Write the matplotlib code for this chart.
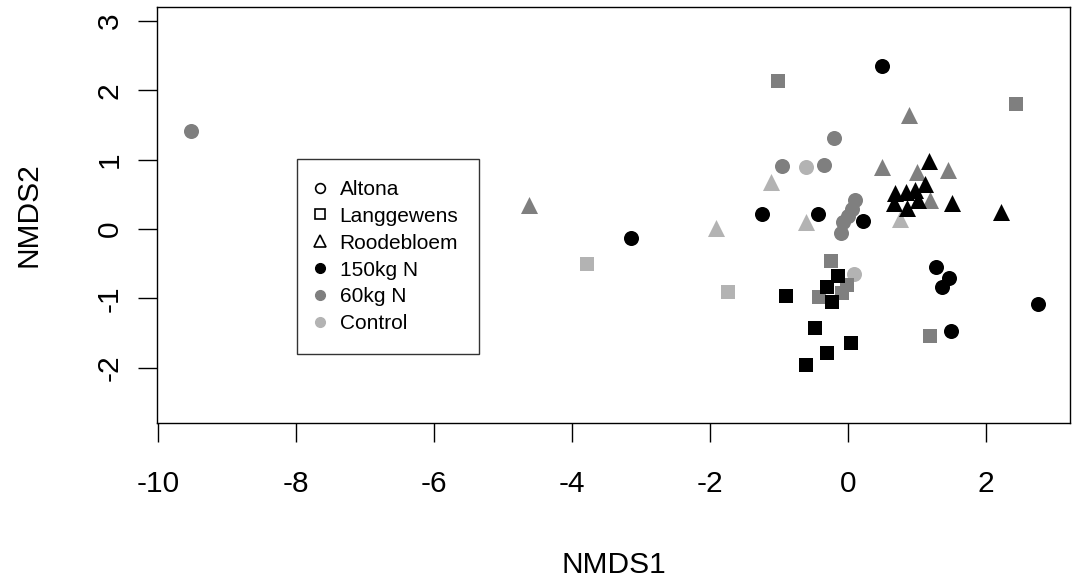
import matplotlib
matplotlib.use("Agg")
import matplotlib.pyplot as plt
from matplotlib.lines import Line2D

plt.rcParams['font.family'] = ['Liberation Sans', 'DejaVu Sans']

# NMDS scores, per site and N treatment
altona_150_x = [0.49, -3.14, -1.25, -0.43, 0.22, 1.28, 1.46, 1.36, 2.75, 1.49]
altona_150_y = [2.35, -0.13, 0.22, 0.22, 0.12, -0.55, -0.71, -0.84, -1.08, -1.47]
altona_60_x = [-9.52, -0.20, -0.96, -0.35, 0.10, 0.06, 0.00, -0.07, -0.10]
altona_60_y = [1.41, 1.31, 0.91, 0.92, 0.42, 0.29, 0.19, 0.10, -0.06]
altona_ctl_x = [-0.61, 0.09]
altona_ctl_y = [0.89, -0.65]

lang_150_x = [-0.90, -0.14, -0.30, -0.23, -0.48, 0.04, -0.30, -0.61]
lang_150_y = [-0.97, -0.68, -0.84, -1.05, -1.43, -1.64, -1.79, -1.97]
lang_60_x = [-1.01, 2.43, -0.25, -0.01, -0.09, -0.42, 1.19]
lang_60_y = [2.13, 1.80, -0.46, -0.81, -0.92, -0.98, -1.55]
lang_ctl_x = [-1.74, -3.78]
lang_ctl_y = [-0.91, -0.50]

rood_150_x = [1.17, 1.51, 2.22, 0.68, 0.84, 0.97, 1.12, 0.67, 0.86, 1.01]
rood_150_y = [0.98, 0.37, 0.24, 0.52, 0.53, 0.56, 0.65, 0.37, 0.30, 0.42]
rood_60_x = [0.88, 1.45, 1.00, 0.49, -4.62, 1.19]
rood_60_y = [1.64, 0.85, 0.82, 0.89, 0.35, 0.42]
rood_ctl_x = [-1.12, -1.91, -0.61, 0.75]
rood_ctl_y = [0.68, 0.01, 0.10, 0.14]

site_labels = ["Altona", "Langgewens", "Roodebloem"]
treat_labels = ["150kg N", "60kg N", "Control"]

c150, c60, cctl = "black", "#7f7f7f", "#b3b3b3"

fig = plt.figure(figsize=(10.72, 5.78), dpi=100)
ax = fig.add_axes([157/1072, 1 - 423/578, 913/1072, 416/578])

groups = [
    (altona_ctl_x, altona_ctl_y, "o", cctl, 117),
    (altona_60_x, altona_60_y, "o", c60, 117),
    (altona_150_x, altona_150_y, "o", c150, 117),
    (lang_ctl_x, lang_ctl_y, "s", cctl, 106),
    (lang_60_x, lang_60_y, "s", c60, 106),
    (lang_150_x, lang_150_y, "s", c150, 106),
    (rood_ctl_x, rood_ctl_y, "^", cctl, 150),
    (rood_60_x, rood_60_y, "^", c60, 150),
    (rood_150_x, rood_150_y, "^", c150, 150),
]
for gx, gy, m, c, s in groups:
    ax.scatter(gx, gy, marker=m, c=c, s=s, linewidths=0, zorder=3)

ax.set_xlim(-10.02, 3.22)
ax.set_ylim(-2.80, 3.20)
ax.set_xticks([-10, -8, -6, -4, -2, 0, 2])
ax.set_yticks([-2, -1, 0, 1, 2, 3])
ax.set_xticklabels(["-10", "-8", "-6", "-4", "-2", "0", "2"])
ax.set_yticklabels(["-2", "-1", "0", "1", "2", "3"])

for sp in ax.spines.values():
    sp.set_linewidth(1.0)
ax.tick_params(axis='both', direction='out', length=14, width=1.0, labelsize=21.5)
ax.tick_params(axis='x', pad=20)
ax.tick_params(axis='y', pad=10)
for lab in ax.get_yticklabels():
    lab.set_rotation(90)
    lab.set_verticalalignment('center')

ax.set_xlabel("NMDS1", fontsize=21.5, labelpad=38)
ax.set_ylabel("NMDS2", fontsize=21.5, labelpad=38)

handles = [
    Line2D([], [], ls='none', marker='o', mfc='none', mec='black', ms=7, mew=1.2),
    Line2D([], [], ls='none', marker='s', mfc='none', mec='black', ms=7, mew=1.2),
    Line2D([], [], ls='none', marker='^', mfc='none', mec='black', ms=8, mew=1.2),
    Line2D([], [], ls='none', marker='o', mfc=c150, mec=c150, ms=7),
    Line2D([], [], ls='none', marker='o', mfc=c60, mec=c60, ms=7),
    Line2D([], [], ls='none', marker='o', mfc=cctl, mec=cctl, ms=7),
]
leg = ax.legend(handles, site_labels + treat_labels, loc='upper left',
                bbox_to_anchor=(140/913, (423-159)/416), borderaxespad=0,
                fontsize=15, frameon=True, fancybox=False, edgecolor='black',
                handlelength=0.2, handletextpad=0.85, labelspacing=0.38,
                borderpad=1.0)
leg.get_frame().set_linewidth(1.0)

fig.savefig("out.png", dpi=100)
